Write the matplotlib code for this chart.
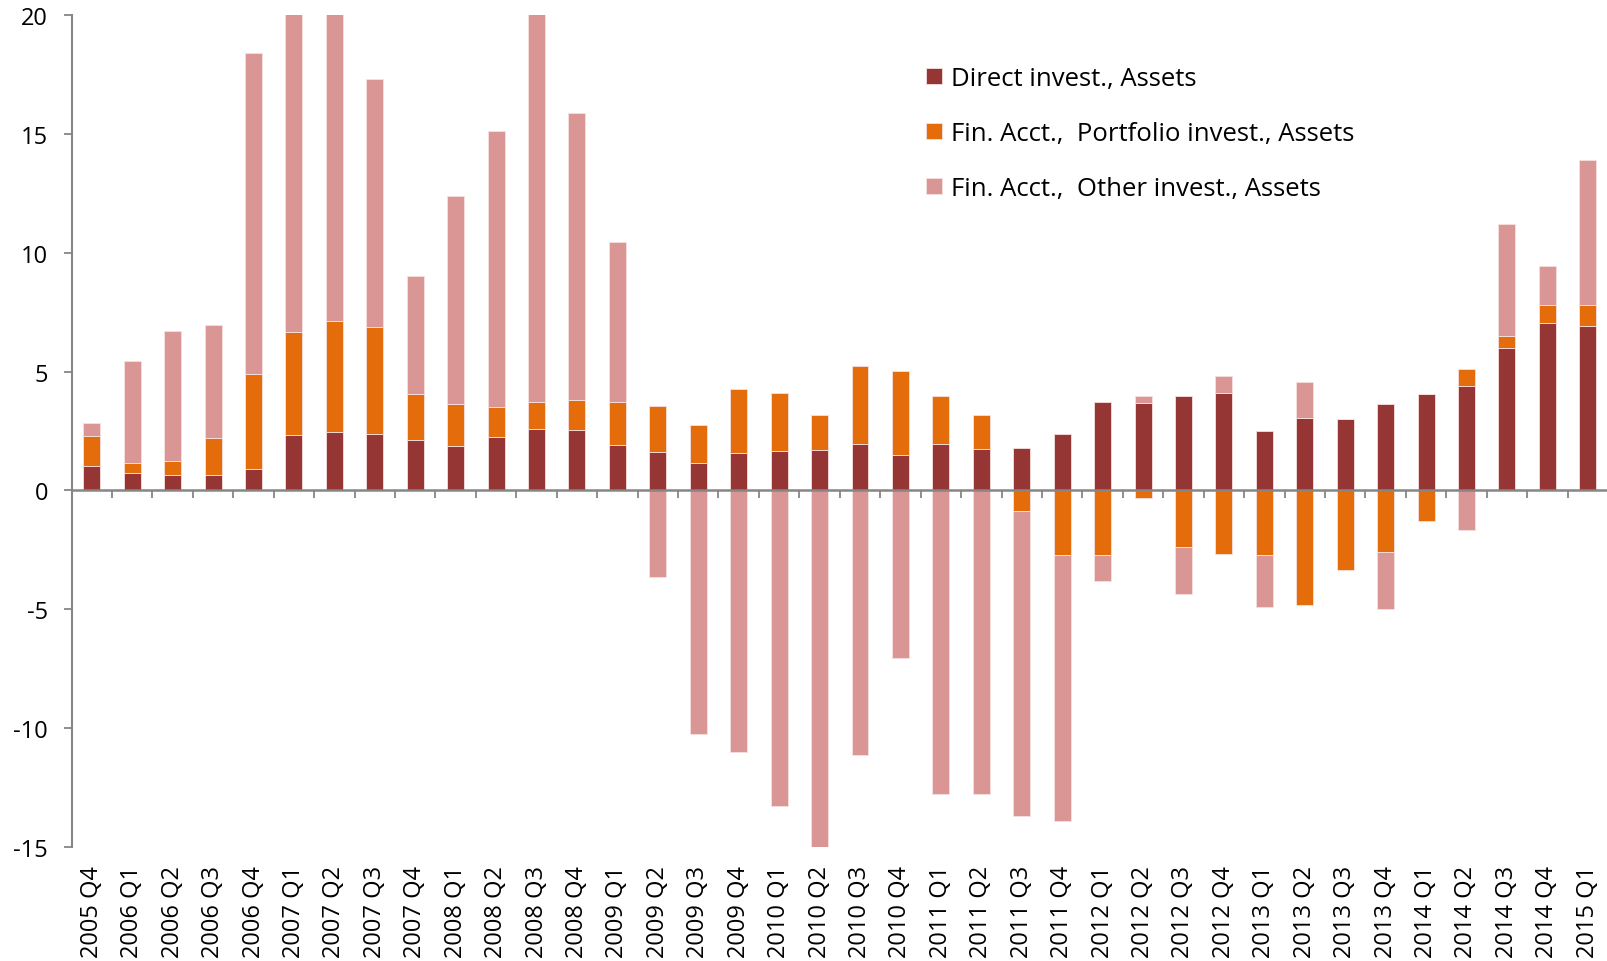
import matplotlib
matplotlib.use("Agg")
import matplotlib.pyplot as plt
import numpy as np

categories = ["2005 Q4", "2006 Q1", "2006 Q2", "2006 Q3", "2006 Q4", "2007 Q1", "2007 Q2",
              "2007 Q3", "2007 Q4", "2008 Q1", "2008 Q2", "2008 Q3", "2008 Q4", "2009 Q1",
              "2009 Q2", "2009 Q3", "2009 Q4", "2010 Q1", "2010 Q2", "2010 Q3", "2010 Q4",
              "2011 Q1", "2011 Q2", "2011 Q3", "2011 Q4", "2012 Q1", "2012 Q2", "2012 Q3",
              "2012 Q4", "2013 Q1", "2013 Q2", "2013 Q3", "2013 Q4", "2014 Q1", "2014 Q2",
              "2014 Q3", "2014 Q4", "2015 Q1"]

direct = [1.04, 0.73, 0.63, 0.65, 0.90, 2.33, 2.47, 2.37, 2.11, 1.87, 2.25, 2.58, 2.54, 1.90,
          1.62, 1.14, 1.56, 1.66, 1.70, 1.95, 1.47, 1.97, 1.76, 1.80, 2.36,
          3.71, 3.67, 3.99, 4.09, 2.51, 3.05, 3.01, 3.62, 4.07, 4.41, 5.97, 7.04, 6.91]

portfolio = [1.24, 0.41, 0.59, 1.54, 3.99, 4.34, 4.65, 4.50, 1.93, 1.77, 1.26, 1.13, 1.25, 1.81,
             1.94, 1.63, 2.71, 2.43, 1.46, 3.27, 3.54, 2.02, 1.43, -0.88, -2.70,
             -2.70, -0.31, -2.40, -2.67, -2.72, -4.82, -3.34, -2.61, -1.28, 0.70, 0.53, 0.74, 0.87]

other = [0.56, 4.32, 5.48, 4.76, 13.52, 15.5, 14.5, 10.42, 4.99, 8.75, 11.62, 17.0, 12.08, 6.75,
         -3.65, -10.24, -11.0, -13.26, -15.2, -11.15, -7.04, -12.75, -12.75, -12.83, -11.22,
         -1.10, 0.32, -1.94, 0.73, -2.17, 1.49, 0.0, -2.38, 0.0, -1.67, 4.72, 1.66, 6.12]

series_names = ["Direct invest., Assets",
                "Fin. Acct.,  Portfolio invest., Assets",
                "Fin. Acct.,  Other invest., Assets"]
series_colors = ["#963634", "#E46C0A", "#DA9694"]

plt.rcParams['font.family'] = ['Open Sans', 'DejaVu Sans']

fig = plt.figure(figsize=(16.08, 9.62), dpi=100)
ax = fig.add_axes([0.0445, 0.1185, 0.9555, 0.865])

x = np.arange(len(categories))
pos_base = np.zeros(len(categories))
neg_base = np.zeros(len(categories))
for vals, name, col in zip([direct, portfolio, other], series_names, series_colors):
    v = np.array(vals, dtype=float)
    bottoms = np.where(v >= 0, pos_base, neg_base)
    ax.bar(x, v, bottom=bottoms, width=0.42, color=col, edgecolor="#f6e0df",
           linewidth=0.6, label=name, zorder=2)
    pos_base = pos_base + np.where(v > 0, v, 0)
    neg_base = neg_base + np.where(v < 0, v, 0)

ax.set_ylim(-15, 20)
ax.set_xlim(-0.5, len(categories) - 0.5)
ax.set_yticks([-15, -10, -5, 0, 5, 10, 15, 20])
ax.set_yticklabels(["-15", "-10", "-5", "0", "5", "10", "15", "20"])
ax.tick_params(axis='y', direction='out', length=6, width=1.3, color="#868686",
               labelsize=17, pad=11)

for s in ['top', 'right']:
    ax.spines[s].set_visible(False)
ax.spines['left'].set_color("#868686")
ax.spines['left'].set_linewidth(1.5)
ax.spines['bottom'].set_position(('data', 0))
ax.spines['bottom'].set_color("#868686")
ax.spines['bottom'].set_linewidth(1.8)
ax.spines['bottom'].set_zorder(3)

ax.set_xticks(np.arange(len(categories)) + 0.5)
ax.set_xticklabels([])
ax.tick_params(axis='x', direction='out', length=6, width=1.3, color="#868686")

sec = ax.secondary_xaxis(0.0)
sec.set_xticks(x)
sec.set_xticklabels(categories, rotation=90, fontsize=17)
sec.tick_params(axis='x', length=0, pad=13)
sec.spines['bottom'].set_visible(False)

leg = ax.legend(loc='upper left', bbox_to_anchor=(926 / 1608, 1 - 67 / 962),
                bbox_transform=fig.transFigure, frameon=False, fontsize=18.5,
                handlelength=0.62, handleheight=0.62, handletextpad=0.35,
                labelspacing=1.17, borderpad=0, borderaxespad=0)

fig.savefig("out.png", dpi=100)
